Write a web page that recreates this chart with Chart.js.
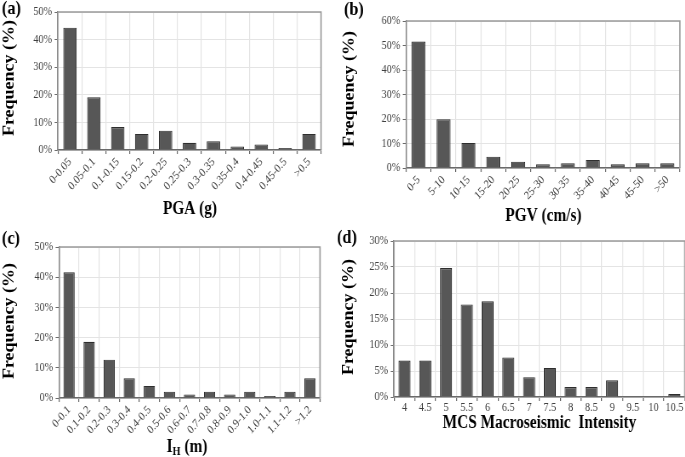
<!DOCTYPE html>
<html>
<head>
<meta charset="utf-8">
<script src="https://cdn.jsdelivr.net/npm/chart.js@4.4.0/dist/chart.umd.min.js"></script>
<style>
html,body{margin:0;padding:0;background:#fff;width:685px;height:457px;overflow:hidden;}
.p{position:absolute;overflow:visible;}
.in{position:absolute;left:0;top:0;transform-origin:0 0;}
</style>
</head>
<body>
<div class="p" style="left:0px;top:0px;width:340px;height:222px;"><div class="in" id="ia"><canvas id="ca"></canvas></div></div>
<div class="p" style="left:0px;top:225px;width:340px;height:232px;"><div class="in" id="ic"><canvas id="cc"></canvas></div></div>
<div class="p" style="left:340px;top:0px;width:345px;height:225px;"><div class="in" id="ib"><canvas id="cb"></canvas></div></div>
<div class="p" style="left:330px;top:225px;width:355px;height:232px;"><div class="in" id="id"><canvas id="cd"></canvas></div></div>
<script>
// ---- data ----
const catsA = ['0-0.05','0.05-0.1','0.1-0.15','0.15-0.2','0.2-0.25','0.25-0.3','0.3-0.35','0.35-0.4','0.4-0.45','0.45-0.5','>0.5'];
const valsA = [44.3,19.1,8.3,5.8,7.0,2.6,3.2,1.3,2.0,0.7,5.8];
const catsB = ['0-5','5-10','10-15','15-20','20-25','25-30','30-35','35-40','40-45','45-50','>50'];
const valsB = [51.6,19.9,10.2,4.6,2.6,1.5,1.9,3.3,1.5,1.9,1.9];
const catsC = ['0-0.1','0.1-0.2','0.2-0.3','0.3-0.4','0.4-0.5','0.5-0.6','0.6-0.7','0.7-0.8','0.8-0.9','0.9-1.0','1.0-1.1','1.1-1.2','>1.2'];
const valsC = [41.6,18.6,12.7,6.5,4.0,2.1,1.2,2.1,1.2,2.1,0.7,2.1,6.5];
const catsD = ['4','4.5','5','5.5','6','6.5','7','7.5','8','8.5','9','9.5','10','10.5'];
const valsD = [7.0,7.0,24.8,17.8,18.4,7.6,3.8,5.6,1.9,1.9,3.2,0,0,0.6];
const yMaxA = 50, yMaxB = 60, yMaxC = 50, yMaxD = 30;
const yStepA = 10, yStepB = 10, yStepC = 10, yStepD = 5;

const SERIF = "'Liberation Serif','Times New Roman',serif";
const S = 0.85; // horizontal squeeze of the original figure

const panelPlugin = {
  id: 'panelText',
  afterDraw(chart, args, o) {
    const ctx = chart.ctx, ca = chart.chartArea;
    ctx.save();
    ctx.strokeStyle = '#9a9a9a';
    ctx.lineWidth = 1.6;
    ctx.beginPath();
    ctx.moveTo(ca.left, ca.top);
    ctx.lineTo(ca.right, ca.top);
    ctx.lineTo(ca.right, ca.bottom);
    ctx.stroke();
    ctx.fillStyle = '#000';
    ctx.font = 'bold 19px ' + SERIF;
    ctx.textAlign = 'left';
    ctx.textBaseline = 'top';
    ctx.fillText(o.label, o.lx / S, o.ly);
    ctx.save();
    ctx.translate(o.yx / S, o.yy);
    ctx.rotate(-Math.PI / 2);
    ctx.font = 'bold 18px ' + SERIF;
    ctx.textAlign = 'center';
    ctx.textBaseline = 'middle';
    ctx.fillText('Frequency (%)', 0, 0);
    ctx.restore();
    ctx.textBaseline = 'middle';
    const xx = o.xx / S;
    if (o.sub) {
      const big = 'bold 18px ' + SERIF, small = 'bold 12px ' + SERIF;
      ctx.font = big; const w1 = ctx.measureText(o.xt).width;
      const w3 = ctx.measureText(o.xt2).width;
      ctx.font = small; const w2 = ctx.measureText(o.sub).width;
      let x = xx - (w1 + w2 + w3) / 2;
      ctx.textAlign = 'left';
      ctx.font = big; ctx.fillText(o.xt, x, o.xy); x += w1;
      ctx.font = small; ctx.fillText(o.sub, x, o.xy + 5); x += w2;
      ctx.font = big; ctx.fillText(o.xt2, x, o.xy);
    } else {
      ctx.font = 'bold 18px ' + SERIF;
      ctx.textAlign = 'center';
      ctx.fillText(o.xt, xx, o.xy);
    }
    ctx.restore();
  }
};

function makeChart(key, cats, vals, yMax, yStep, geo, txt, rot, barPct) {
  const inner = document.getElementById('i' + key);
  const outer = inner.parentElement;
  inner.style.width = (outer.clientWidth / S) + 'px';
  inner.style.height = outer.clientHeight + 'px';
  inner.style.transform = 'scaleX(' + S + ')';
  return new Chart(document.getElementById('c' + key), {
    type: 'bar',
    data: {
      labels: cats,
      datasets: [{
        data: vals,
        backgroundColor: '#575757',
        borderColor: '#2e2e2e',
        borderWidth: 1.1,
        categoryPercentage: 1.0,
        barPercentage: barPct
      }]
    },
    plugins: [panelPlugin],
    options: {
      responsive: true,
      maintainAspectRatio: false,
      animation: false,
      events: [],
      layout: { padding: { left: 0, top: geo.top, right: geo.right / S, bottom: 0 } },
      plugins: {
        legend: { display: false },
        tooltip: { enabled: false },
        panelText: txt
      },
      scales: {
        x: {
          offset: true,
          grid: { offset: true, color: '#e4e4e4', lineWidth: 1.2, tickColor: '#6a6a6a', tickLength: 4, drawTicks: true },
          border: { color: '#6a6a6a', width: 1.4 },
          ticks: {
            autoSkip: false, maxRotation: rot, minRotation: rot, padding: geo.tp,
            color: '#404040', font: { family: SERIF, size: 12 }
          },
          afterFit(s) { s.height = geo.xh; }
        },
        y: {
          min: 0, max: yMax,
          grid: { color: '#e4e4e4', lineWidth: 1, tickColor: '#6a6a6a', tickLength: 4 },
          border: { color: '#8a8a8a', width: 1.6 },
          ticks: {
            stepSize: yStep, padding: 3,
            color: '#404040', font: { family: SERIF, size: 12 },
            callback: v => v + '%'
          },
          afterFit(s) { s.width = geo.yw / S; }
        }
      }
    }
  });
}

makeChart('a', catsA, valsA, yMaxA, yStepA,
  { top: 12, right: 19, xh: 72, yw: 58, tp: 1 },
  { label: '(a)', lx: 2, ly: 0, yx: 10, yy: 78, xt: 'PGA (g)', xx: 190, xy: 209 }, 45, 0.56);

makeChart('b', catsB, valsB, yMaxB, yStepB,
  { top: 21, right: 6, xh: 57, yw: 66, tp: 1 },
  { label: '(b)', lx: 4, ly: 1, yx: 10, yy: 89, xt: 'PGV (cm/s)', xx: 203, xy: 216 }, 45, 0.56);

makeChart('c', catsC, valsC, yMaxC, yStepC,
  { top: 22, right: 20, xh: 59, yw: 59, tp: 1 },
  { label: '(c)', lx: 2, ly: 5, yx: 10, yy: 96, xt: 'I', sub: 'H', xt2: ' (m)', xx: 187, xy: 222 }, 45, 0.56);

makeChart('d', catsD, valsD, yMaxD, yStepD,
  { top: 16, right: 1, xh: 60, yw: 64, tp: 0 },
  { label: '(d)', lx: 7, ly: 4, yx: 19, yy: 92, xt: 'MCS Macroseismic  Intensity', xx: 209, xy: 198 }, 0, 0.58);
</script>
</body>
</html>
